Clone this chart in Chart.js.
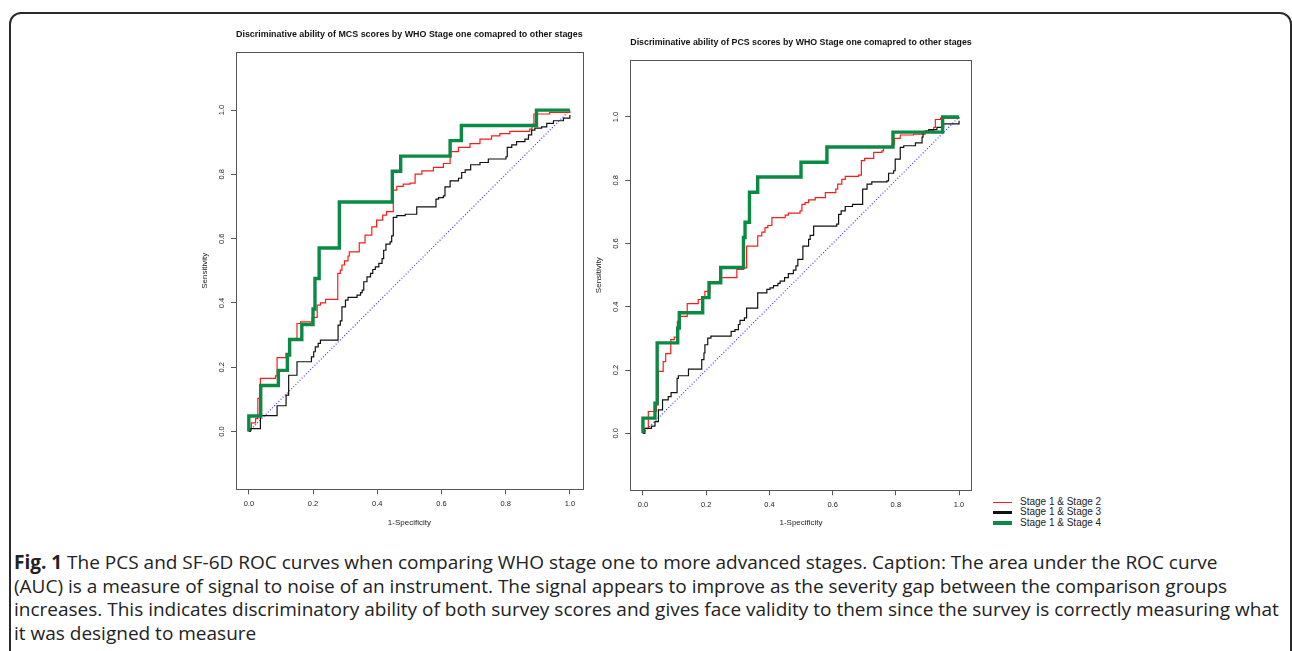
<!DOCTYPE html>
<html>
<head>
<meta charset="utf-8">
<script src="https://cdn.jsdelivr.net/npm/chart.js@4.4.1/dist/chart.umd.min.js"></script>
<style>
  body { margin: 0; background: #fff; width: 1292px; height: 651px; overflow: hidden; position: relative; font-family: "Liberation Sans", Arial, sans-serif; }
  #card { position: absolute; left: 9px; top: 12px; width: 1283px; height: 700px; border: 2px solid #2b2b2b; border-radius: 12px; box-sizing: border-box; }
  canvas { position: absolute; }
  #mcs { left: 190px; top: 20px; }
  #pcs { left: 590px; top: 30px; }
  #legend { position: absolute; left: 993px; top: 497px; font-size: 10px; line-height: 10.3px; color: #222; }
  #legend .row { white-space: nowrap; height: 10.3px; }
  #legend .swatch { display: inline-block; width: 19px; vertical-align: middle; margin-right: 8px; }
  #caption { position: absolute; left: 14px; top: 551px; white-space: nowrap; font-family: "Open Sans", sans-serif; font-size: 19px; line-height: 23.5px; color: #222; }
</style>
</head>
<body>
<div id="card"></div>
<canvas id="mcs" width="410" height="520"></canvas>
<canvas id="pcs" width="400" height="500"></canvas>
<div id="legend"></div>
<div id="caption"><b>Fig. 1</b> The PCS and SF-6D ROC curves when comparing WHO stage one to more advanced stages. Caption: The area under the ROC curve<br>(AUC) is a measure of signal to noise of an instrument. The signal appears to improve as the severity gap between the comparison groups<br>increases. This indicates discriminatory ability of both survey scores and gives face validity to them since the survey is correctly measuring what<br>it was designed to measure</div>

<script>
const xTicks = [0, 0.2, 0.4, 0.6, 0.8, 1.0];
const yTicks = [0, 0.2, 0.4, 0.6, 0.8, 1.0];
const seriesLabels = ['Stage 1 & Stage 2', 'Stage 1 & Stage 3', 'Stage 1 & Stage 4'];
const seriesColors = ['#ff1a1a', '#111111', '#0a8a45'];

// MCS panel: 1-specificity where the curve rises, sensitivity after the rise
const mcsStage2X = [0, 0.002, 0.008, 0.021, 0.028, 0.036, 0.083, 0.088, 0.116, 0.124,
  0.150, 0.161, 0.197, 0.213, 0.223, 0.239, 0.277, 0.285, 0.290, 0.298,
  0.309, 0.313, 0.344, 0.362, 0.383, 0.398, 0.417, 0.429, 0.450, 0.461,
  0.481, 0.502, 0.518, 0.539, 0.575, 0.606, 0.627, 0.653, 0.689, 0.720,
  0.756, 0.782, 0.813, 0.875, 0.882, 0.888, 0.937, 1.000];
const mcsStage2Y = [0, 0.004, 0.027, 0.040, 0.103, 0.165, 0.173, 0.230, 0.243, 0.289,
  0.336, 0.341, 0.355, 0.393, 0.400, 0.411, 0.492, 0.502, 0.518, 0.531,
  0.546, 0.559, 0.587, 0.611, 0.637, 0.658, 0.673, 0.684, 0.751, 0.763,
  0.770, 0.773, 0.801, 0.811, 0.822, 0.834, 0.871, 0.884, 0.896, 0.910,
  0.920, 0.927, 0.934, 0.941, 0.956, 0.988, 0.993, 0.998];

const mcsStage3X = [0, 0.005, 0.036, 0.088, 0.116, 0.124, 0.150, 0.195, 0.202, 0.207,
  0.216, 0.223, 0.278, 0.285, 0.290, 0.301, 0.309, 0.337, 0.348, 0.353,
  0.358, 0.368, 0.379, 0.386, 0.394, 0.405, 0.415, 0.420, 0.427, 0.440,
  0.445, 0.450, 0.461, 0.487, 0.523, 0.583, 0.591, 0.606, 0.611, 0.627,
  0.653, 0.663, 0.674, 0.691, 0.720, 0.746, 0.801, 0.805, 0.819, 0.834,
  0.860, 0.871, 0.881, 0.891, 0.912, 0.928, 0.949, 0.980, 1.000];
const mcsStage3Y = [0, 0.009, 0.049, 0.080, 0.113, 0.175, 0.217, 0.232, 0.248, 0.263,
  0.274, 0.284, 0.331, 0.344, 0.388, 0.409, 0.417, 0.424, 0.432, 0.440,
  0.466, 0.481, 0.492, 0.504, 0.512, 0.523, 0.538, 0.564, 0.583, 0.590,
  0.609, 0.666, 0.672, 0.676, 0.699, 0.723, 0.728, 0.733, 0.761, 0.780,
  0.788, 0.806, 0.814, 0.830, 0.837, 0.848, 0.855, 0.884, 0.892, 0.902,
  0.910, 0.923, 0.938, 0.944, 0.948, 0.959, 0.967, 0.975, 0.985];

const mcsStage4X = [0, 0, 0.037, 0.092, 0.120, 0.127, 0.165, 0.200, 0.206, 0.219,
  0.282, 0.447, 0.473, 0.627, 0.662, 0.896, 1.000];
const mcsStage4Y = [0, 0.048, 0.143, 0.190, 0.238, 0.286, 0.333, 0.381, 0.476, 0.571,
  0.714, 0.810, 0.857, 0.905, 0.952, 1.000, 1.000];

// PCS panel
const pcsStage2X = [0, 0.003, 0.017, 0.043, 0.049, 0.064, 0.072, 0.088, 0.099, 0.109,
  0.117, 0.140, 0.175, 0.188, 0.196, 0.212, 0.242, 0.247, 0.297, 0.318,
  0.328, 0.363, 0.376, 0.386, 0.395, 0.408, 0.450, 0.460, 0.497, 0.503,
  0.513, 0.524, 0.545, 0.577, 0.610, 0.616, 0.629, 0.640, 0.682, 0.691,
  0.701, 0.730, 0.756, 0.761, 0.788, 0.796, 0.814, 0.856, 0.893, 0.920,
  0.925, 0.941, 1.000];
const pcsStage2Y = [0, 0.016, 0.069, 0.090, 0.196, 0.227, 0.252, 0.296, 0.304, 0.354,
  0.370, 0.410, 0.423, 0.431, 0.449, 0.478, 0.483, 0.492, 0.518, 0.523,
  0.592, 0.624, 0.636, 0.650, 0.657, 0.682, 0.690, 0.696, 0.703, 0.724,
  0.729, 0.738, 0.745, 0.761, 0.772, 0.788, 0.803, 0.812, 0.816, 0.862,
  0.869, 0.888, 0.893, 0.906, 0.914, 0.932, 0.943, 0.946, 0.957, 0.967,
  0.992, 0.996, 1.000];

const pcsStage3X = [0, 0.006, 0.027, 0.038, 0.049, 0.062, 0.080, 0.089, 0.108, 0.112,
  0.144, 0.186, 0.193, 0.196, 0.205, 0.215, 0.279, 0.291, 0.302, 0.307,
  0.321, 0.328, 0.363, 0.392, 0.402, 0.413, 0.427, 0.434, 0.448, 0.460,
  0.476, 0.484, 0.490, 0.506, 0.524, 0.529, 0.540, 0.613, 0.619, 0.627,
  0.640, 0.663, 0.695, 0.709, 0.724, 0.772, 0.777, 0.793, 0.798, 0.814,
  0.825, 0.862, 0.883, 0.886, 0.904, 0.930, 0.951, 1.000];
const pcsStage3Y = [0, 0.016, 0.023, 0.037, 0.074, 0.106, 0.116, 0.129, 0.174, 0.182,
  0.203, 0.233, 0.254, 0.280, 0.301, 0.307, 0.322, 0.328, 0.344, 0.357,
  0.365, 0.396, 0.444, 0.455, 0.460, 0.467, 0.474, 0.481, 0.492, 0.505,
  0.516, 0.529, 0.550, 0.592, 0.613, 0.626, 0.655, 0.661, 0.692, 0.703,
  0.717, 0.724, 0.772, 0.788, 0.795, 0.798, 0.822, 0.830, 0.867, 0.904,
  0.909, 0.918, 0.936, 0.951, 0.960, 0.967, 0.978, 0.988];

const pcsStage4X = [0, 0, 0.038, 0.045, 0.110, 0.115, 0.189, 0.209, 0.246, 0.318,
  0.323, 0.337, 0.363, 0.500, 0.582, 0.791, 0.948, 1.000];
const pcsStage4Y = [0, 0.048, 0.095, 0.286, 0.333, 0.381, 0.429, 0.476, 0.524, 0.619,
  0.667, 0.762, 0.810, 0.857, 0.905, 0.952, 1.000, 1.000];

const chanceX = [0, 1];
const chanceY = [0, 1];

const toPoints = (xs, ys) => xs.map((x, i) => ({ x: x, y: ys[i] }));

// draws the box round the plot region, like R's box()
const plotBox = {
  id: 'plotBox',
  beforeDatasetsDraw(chart) {
    const { ctx, chartArea: a } = chart;
    ctx.save();
    ctx.strokeStyle = '#555';
    ctx.lineWidth = 1;
    ctx.strokeRect(Math.round(a.left) + 0.5, Math.round(a.top) + 0.5,
      Math.round(a.right - a.left), Math.round(a.bottom - a.top));
    ctx.restore();
  }
};

function makeChart(id, title, series, g) {
  const datasets = series.map((s, i) => ({
    label: seriesLabels[i],
    data: toPoints(s[0], s[1]),
    borderColor: seriesColors[i],
    borderWidth: i === 2 ? 3.4 : 1.2,
    stepped: true,
    pointRadius: 0,
    order: 2 - i
  }));
  datasets.push({
    label: 'chance',
    data: toPoints(chanceX, chanceY),
    borderColor: '#3d3dff',
    borderWidth: 1.2,
    borderDash: [1, 2],
    pointRadius: 0,
    order: 3
  });

  const tickFont = { family: '"Liberation Sans", Arial', size: 7.5 };
  new Chart(document.getElementById(id), {
    type: 'line',
    data: { datasets: datasets },
    options: {
      responsive: false,
      animation: false,
      devicePixelRatio: 1,
      layout: { padding: g.padding },
      plugins: {
        legend: { display: false },
        tooltip: { enabled: false },
        title: {
          display: true,
          text: title,
          fullSize: false,
          color: '#111',
          font: { family: '"Liberation Sans", Arial', size: 9.5, weight: 'bold', lineHeight: 1.2 },
          padding: g.titlePad
        }
      },
      scales: {
        x: {
          type: 'linear', min: -0.04, max: 1.04,
          afterBuildTicks: s => { s.ticks = xTicks.map(v => ({ value: v })); },
          afterFit: s => { s.height = g.xHeight; },
          grid: { drawOnChartArea: false, tickLength: 5, color: '#555' },
          border: { display: false },
          ticks: { font: tickFont, color: '#222', padding: g.xTickPad, maxRotation: 0, autoSkip: false,
                   callback: v => v.toFixed(1) },
          title: { display: true, text: '1-Specificity', color: '#222',
                   font: { family: '"Liberation Sans", Arial', size: 8, lineHeight: 1.2 },
                   padding: { top: 0, bottom: g.xTitlePad } }
        },
        y: {
          type: 'linear', min: -0.18, max: 1.18,
          afterBuildTicks: s => { s.ticks = yTicks.map(v => ({ value: v })); },
          afterFit: s => { s.width = 36; },
          grid: { drawOnChartArea: false, tickLength: 5, color: '#555' },
          border: { display: false },
          ticks: { font: tickFont, color: '#222', padding: 4, minRotation: 90, maxRotation: 90,
                   crossAlign: 'center', autoSkip: false, callback: v => v.toFixed(1) },
          title: { display: true, text: 'Sensitivity', color: '#222',
                   font: { family: '"Liberation Sans", Arial', size: 8, lineHeight: 1.2 },
                   padding: { top: 0, bottom: 0 } }
        }
      }
    },
    plugins: [plotBox]
  });
}

makeChart('mcs', 'Discriminative ability of MCS scores by WHO Stage one comapred to other stages',
  [[mcsStage2X, mcsStage2Y], [mcsStage3X, mcsStage3Y], [mcsStage4X, mcsStage4Y]],
  { padding: { left: 10, right: 17.3, top: 0, bottom: 0 }, titlePad: { top: 8.3, bottom: 12.6 },
    xHeight: 50.7, xTickPad: 5.5, xTitlePad: 12.8 });

makeChart('pcs', 'Discriminative ability of PCS scores by WHO Stage one comapred to other stages',
  [[pcsStage2X, pcsStage2Y], [pcsStage3X, pcsStage3Y], [pcsStage4X, pcsStage4Y]],
  { padding: { left: 4.3, right: 18.3, top: 0, bottom: 0 }, titlePad: { top: 6.6, bottom: 12.0 },
    xHeight: 39.7, xTickPad: 5, xTitlePad: 2.5 });

// legend built from the series labels and colours
const legendWidths = [1.5, 2.5, 4];
const legend = document.getElementById('legend');
seriesLabels.forEach((label, i) => {
  const row = document.createElement('div');
  row.className = 'row';
  row.innerHTML = `<span class="swatch" style="height:${legendWidths[i]}px;background:${seriesColors[i]}"></span>${label}`;
  legend.appendChild(row);
});
</script>
</body>
</html>
